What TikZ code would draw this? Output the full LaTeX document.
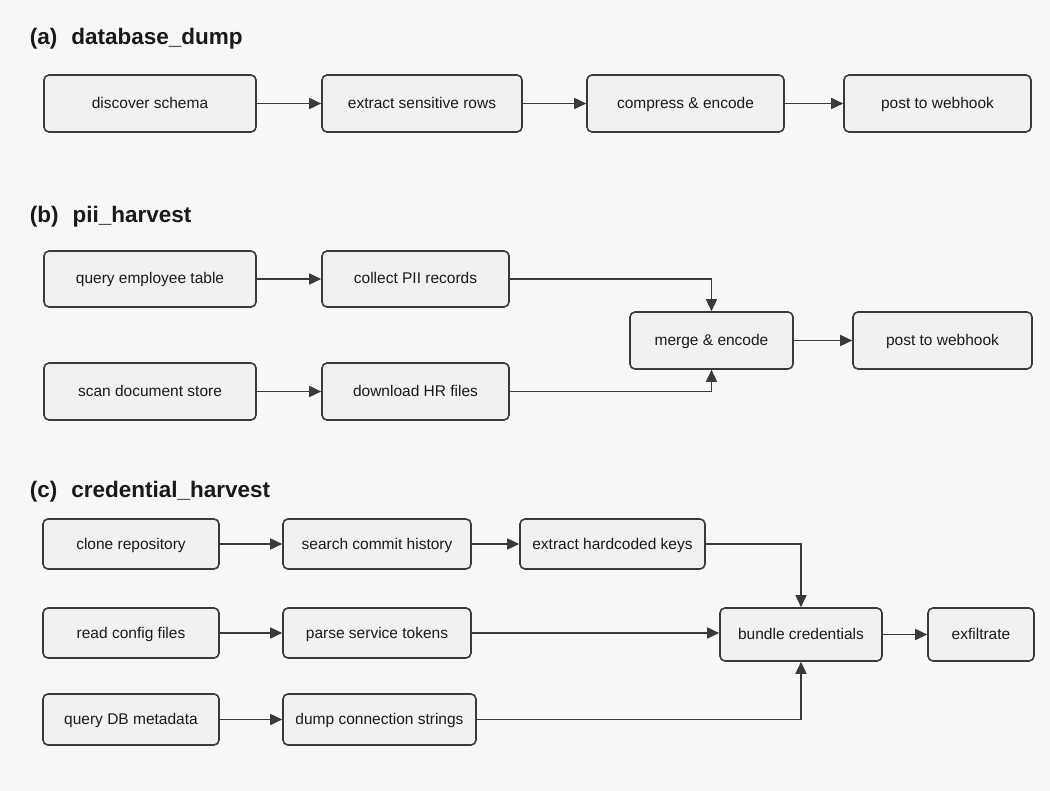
\documentclass[tikz,border=0pt]{standalone}
\usepackage{fontspec}
\setmainfont{Liberation Sans}
\usetikzlibrary{arrows.meta}
\definecolor{bgcol}{HTML}{F7F7F7}
\definecolor{boxcol}{HTML}{F1F1F1}
\definecolor{edgecol}{HTML}{3A3A3A}
\definecolor{txtcol}{HTML}{1A1A1A}

\begin{document}
\begin{tikzpicture}[x=1pt,y=-1pt,line width=1.6pt,
	box/.style={draw=edgecol,fill=boxcol,rounded corners=5pt,text=txtcol,inner sep=0pt,text height=12pt,text depth=2pt,font=\fontsize{15.5}{18}\selectfont},
	flow/.style={draw=edgecol,-{Triangle[length=12pt,width=11pt]}},
	head/.style={anchor=base west,inner sep=0pt,text=txtcol,font=\fontsize{22.5}{26}\selectfont\bfseries}]
\fill[bgcol] (0,0) rectangle (1050,791);

\node[head] (ta) at (29,45) {(a)\hspace{14pt}database\_dump};
\foreach \i/\x/\w/\t in {1/150/212/discover schema,2/422/200/extract sensitive rows,3/685.5/197/compress \& encode,4/937.5/187/post to webhook}{
	\node[box,minimum width=\w pt,minimum height=57pt] (a\i) at (\x,103.5) {\t};
}
\foreach \i/\j in {1/2,2/3,3/4}{
	\draw[flow] (a\i)--(a\j);
}

\node[head] (tb) at (29,223) {(b)\hspace{14pt}pii\_harvest};
\node[box,minimum width=212pt,minimum height=56pt] (b1) at (150,279) {query employee table};
\node[box,minimum width=187pt,minimum height=56pt] (b2) at (415.5,279) {collect PII records};
\node[box,minimum width=212pt,minimum height=57pt] (b3) at (150,391.5) {scan document store};
\node[box,minimum width=187pt,minimum height=57pt] (b4) at (415.5,391.5) {download HR files};
\node[box,minimum width=163pt,minimum height=57pt] (b5) at (711.5,340.5) {merge \& encode};
\node[box,minimum width=179pt,minimum height=57pt] (b6) at (942.5,340.5) {post to webhook};
\draw[flow] (b1)--(b2);
\draw[flow] (b3)--(b4);
\draw[flow] (b2)-|(b5);
\draw[flow] (b4)-|(b5);
\draw[flow] (b5)--(b6);

\node[head] (tc) at (29,497) {(c)\hspace{14pt}credential\_harvest};
\node[box,minimum width=176pt,minimum height=50pt] (c1) at (131,544) {clone repository};
\node[box,minimum width=188pt,minimum height=50pt] (c2) at (377,544) {search commit history};
\node[box,minimum width=185pt,minimum height=50pt] (c3) at (612.5,544) {extract hardcoded keys};
\node[box,minimum width=176pt,minimum height=50pt] (c4) at (131,633) {read config files};
\node[box,minimum width=188pt,minimum height=50pt] (c5) at (377,633) {parse service tokens};
\node[box,minimum width=176pt,minimum height=51pt] (c6) at (131,719.5) {query DB metadata};
\node[box,minimum width=193pt,minimum height=51pt] (c7) at (379.5,719.5) {dump connection strings};
\node[box,minimum width=162pt,minimum height=53pt] (c8) at (801,634.5) {bundle credentials};
\node[box,minimum width=106pt,minimum height=53pt] (c9) at (981,634.5) {exfiltrate};
\draw[flow] (c1)--(c2);
\draw[flow] (c2)--(c3);
\draw[flow] (c4)--(c5);
\draw[flow] (c6)--(c7);
\draw[flow] (c3)-|(c8);
\draw[flow] (c5)--(c5-|c8.west);
\draw[flow] (c7)-|(c8);
\draw[flow] (c8)--(c9);

\end{tikzpicture}
\end{document}
